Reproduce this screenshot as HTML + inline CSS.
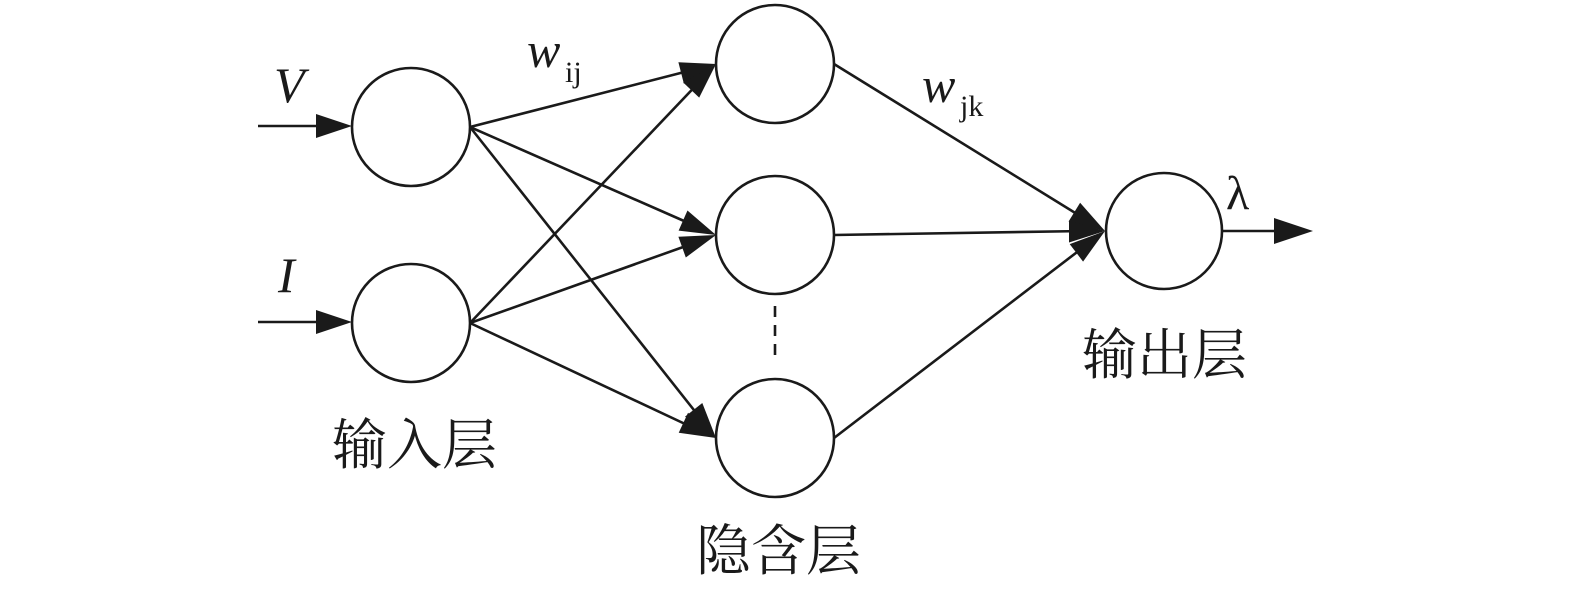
<!DOCTYPE html>
<html><head><meta charset="utf-8"><style>
html,body{margin:0;padding:0;background:#fff;}
svg{display:block;}
</style></head><body>
<svg width="1575" height="592" viewBox="0 0 1575 592" xmlns="http://www.w3.org/2000/svg">
<g stroke="#1a1a1a" stroke-width="2.6" fill="none">
<circle cx="411" cy="127" r="59"/>
<circle cx="411" cy="323" r="59"/>
<circle cx="775" cy="64" r="59"/>
<circle cx="775" cy="235" r="59"/>
<circle cx="775" cy="438" r="59"/>
<circle cx="1164" cy="231" r="58"/>
<line x1="258" y1="126" x2="330" y2="126"/>
<line x1="258" y1="322" x2="330" y2="322"/>
<line x1="470" y1="127" x2="700" y2="68"/>
<line x1="470" y1="127" x2="700" y2="228"/>
<line x1="470" y1="127" x2="705" y2="424"/>
<line x1="470" y1="323" x2="705" y2="76"/>
<line x1="470" y1="323" x2="700" y2="241"/>
<line x1="470" y1="323" x2="700" y2="431"/>
<line x1="834" y1="64" x2="1085" y2="219"/>
<line x1="834" y1="235" x2="1085" y2="231"/>
<line x1="834" y1="438" x2="1085" y2="246"/>
<line x1="1223" y1="231" x2="1290" y2="231"/>
<line x1="775" y1="306" x2="775" y2="362" stroke-dasharray="11,8"/>
</g>
<g fill="#1a1a1a" stroke="none">
<polygon points="352,126 316,114 316,138"/>
<polygon points="352,322 316,310 316,334"/>
<polygon points="1313,231 1274,218 1274,244"/>
<polygon points="716,64 683.85,83.59 678.39,62.27"/>
<polygon points="716,235 678.62,230.60 687.46,210.46"/>
<polygon points="716,438 685.04,416.58 702.30,402.94"/>
<polygon points="716,64 699.19,97.68 683.23,82.52"/>
<polygon points="716,235 685.81,257.49 678.39,236.77"/>
<polygon points="716,438 678.73,432.72 688.05,412.78"/>
<polygon points="1105,231 1068.58,221.48 1080.12,202.74"/>
<polygon points="1105,231 1069,242.5 1069,220.5"/>
<polygon points="1105,231 1083.07,261.59 1069.71,244.11"/>
</g>
<g font-family="'Liberation Serif',serif" fill="#1a1a1a">
<text x="274" y="102" font-size="50" font-style="italic">V</text>
<text x="278" y="292" font-size="50" font-style="italic">I</text>
<text x="527" y="67" font-size="50" font-style="italic">w</text>
<text x="565" y="82" font-size="30">ij</text>
<text x="922" y="102" font-size="50" font-style="italic">w</text>
<text x="960" y="116" font-size="30">jk</text>
<text x="1226" y="209" font-size="48">λ</text>
</g>
<g font-family="'Liberation Serif','Noto Serif CJK SC','Noto Sans CJK SC',serif" fill="#1a1a1a" font-size="55">
<text x="332" y="464">输入层</text>
<text x="696" y="570">隐含层</text>
<text x="1082" y="374">输出层</text>
</g>
</svg>
</body></html>
